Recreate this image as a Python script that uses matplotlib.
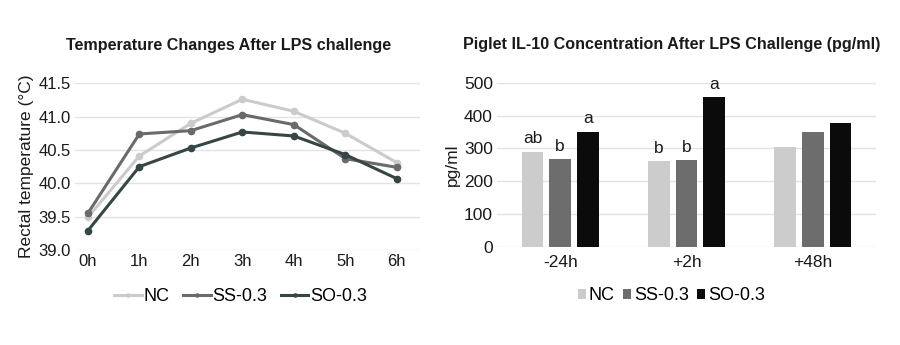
import matplotlib
matplotlib.use("Agg")
import matplotlib.pyplot as plt
import numpy as np

plt.rcParams['font.family'] = ['Liberation Sans', 'DejaVu Sans']

# Rectal temperature after LPS challenge
hours = ["0h", "1h", "2h", "3h", "4h", "5h", "6h"]
temp_nc = [39.49, 40.41, 40.90, 41.26, 41.08, 40.75, 40.31]
temp_ss = [39.55, 40.74, 40.79, 41.03, 40.88, 40.37, 40.24]
temp_so = [39.29, 40.25, 40.53, 40.77, 40.71, 40.43, 40.07]

# IL-10 concentration (pg/ml)
times = ["-24h", "+2h", "+48h"]
il10_nc = [290, 262, 303]
il10_ss = [268, 264, 351]
il10_so = [351, 457, 376]
letters_nc = ["ab", "b", ""]
letters_ss = ["b", "b", ""]
letters_so = ["a", "a", ""]

groups = ["NC", "SS-0.3", "SO-0.3"]
line_colors = ["#cbcbcb", "#6a6a6a", "#364646"]
bar_colors = ["#cccccc", "#6d6d6d", "#0b0b0b"]

fig = plt.figure(figsize=(9, 3.45), dpi=100)
W, H = 900, 345

def px_axes(x0, x1, ytop, ybot):
    return fig.add_axes([x0 / W, 1 - ybot / H, (x1 - x0) / W, (ybot - ytop) / H])

grid_c = "#e3e3e3"
txt_c = "#1a1a1a"

# ---- Left: temperature lines ----
ax1 = px_axes(75, 420, 83.3, 250)
x = np.arange(len(hours))
for vals, c, name in zip([temp_nc, temp_ss, temp_so], line_colors, groups):
    ax1.plot(x, vals, color=c, lw=2.2, marker="o", ms=4.5, label=name)
ax1.set_xlim(-0.25, 6.45)
ax1.set_ylim(39.0, 41.5)
yt = np.arange(39.0, 41.51, 0.5)
ax1.set_yticks(yt)
ax1.set_yticklabels([f"{v:.1f}" for v in yt])
ax1.set_xticks(x)
ax1.set_xticklabels(hours)
ax1.set_ylabel("Rectal temperature (°C)", fontsize=12.5, color=txt_c, labelpad=3)
ax1.set_title("Temperature Changes After LPS challenge", fontsize=11.6,
              fontweight="bold", color=txt_c, pad=24, x=0.445)
ax1.grid(axis="y", color=grid_c, lw=1)
ax1.set_axisbelow(True)
for s in ax1.spines.values():
    s.set_visible(False)
ax1.tick_params(length=0, labelsize=12, colors=txt_c, pad=3)
ax1.legend(loc="center", bbox_to_anchor=(0.48, -0.28), ncol=3, frameon=False,
           fontsize=13, handlelength=1.5, handletextpad=0.08, columnspacing=0.8,
           markerscale=0.5, borderpad=0)

# ---- Right: IL-10 bars ----
ax2 = px_axes(497, 876, 82.7, 246.7)
xc = np.arange(len(times))
bw = 0.172
step = 0.219
for i, (vals, c, name, labs) in enumerate(zip([il10_nc, il10_ss, il10_so], bar_colors,
                                              groups, [letters_nc, letters_ss, letters_so])):
    pos = xc + (i - 1) * step
    ax2.bar(pos, vals, width=bw, color=c, label=name)
    for p, v, t in zip(pos, vals, labs):
        if t:
            ax2.text(p, v + 16, t, ha="center", va="bottom", fontsize=12.5, color=txt_c)
ax2.set_xlim(-0.5, 2.5)
ax2.set_ylim(0, 500)
ax2.set_yticks(np.arange(0, 501, 100))
ax2.set_xticks(xc)
ax2.set_xticklabels(times)
ax2.set_ylabel("pg/ml", fontsize=12.5, color=txt_c, labelpad=3)
ax2.set_title("Piglet IL-10 Concentration After LPS Challenge (pg/ml)", fontsize=11.6,
              fontweight="bold", color=txt_c, pad=24, x=0.462)
ax2.grid(axis="y", color=grid_c, lw=1)
ax2.set_axisbelow(True)
for s in ax2.spines.values():
    s.set_visible(False)
ax2.tick_params(axis="y", length=0, labelsize=12.5, colors=txt_c, pad=3)
ax2.tick_params(axis="x", length=0, labelsize=12.5, colors=txt_c, pad=6)
ax2.legend(loc="center", bbox_to_anchor=(0.46, -0.3), ncol=3, frameon=False,
           fontsize=13, handlelength=0.45, handleheight=0.45, handletextpad=0.17,
           columnspacing=0.45, borderpad=0)

fig.savefig("out.png", dpi=100, facecolor="white")
